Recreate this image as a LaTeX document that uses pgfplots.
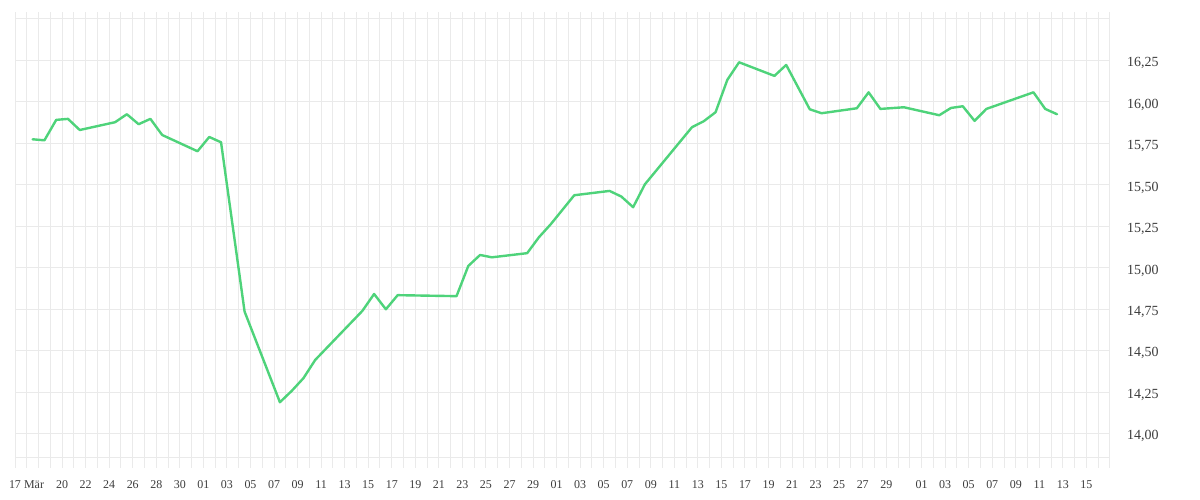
\documentclass[border=0pt]{standalone}
\usepackage{fontspec}
\setmainfont{Liberation Serif}
\usepackage{pgfplots}
\pgfplotsset{compat=1.18}
\definecolor{linegreen}{RGB}{78,211,122}
\definecolor{gridgray}{RGB}{234,234,234}
\definecolor{labelgray}{RGB}{60,60,60}
\begin{document}
\begin{tikzpicture}[x=1bp,y=1bp]
\path[use as bounding box] (0,0) rectangle (1200,500);
\begin{axis}[
  at={(15bp,42bp)}, anchor=south west,
  scale only axis, width=1095bp, height=446bp,
  xmin=-2, xmax=91, ymin=13.855, ymax=16.542,
  axis line style={draw=none},
  xtick pos=bottom,
  xtick={-2,0,2,4,6,8,10,12,14,16,18,20,22,24,26,28,30,32,34,36,38,40,42,44,46,48,50,52,54,56,58,60,62,64,66,68,70,72,75,77,79,81,83,85,87,89},
  xticklabels={17,{\kern-9bp Mär},20,22,24,26,28,30,01,03,05,07,09,11,13,15,17,19,21,23,25,27,29,01,03,05,07,09,11,13,15,17,19,21,23,25,27,29,01,03,05,07,09,11,13,15},
  minor xtick={-2,-1,...,91},
  ytick={14,14.25,14.5,14.75,15,15.25,15.5,15.75,16,16.25,16.5},
  yticklabels={{14,00},{14,25},{14,50},{14,75},{15,00},{15,25},{15,50},{15,75},{16,00},{16,25},{}},
  yticklabel pos=right,
  grid=both,
  major grid style={draw=gridgray, line width=1bp},
  minor grid style={draw=gridgray, line width=1bp},
  tick align=outside,
  major tick length=10bp, minor tick length=10bp,
  every tick/.style={draw=gridgray, line width=1bp},
  ytick style={draw=none},
  xticklabel style={font=\fontsize{12}{14}\selectfont, text=labelgray, inner sep=0pt, anchor=center, yshift=-16.5bp},
  yticklabel style={font=\fontsize{14}{16}\selectfont, text=labelgray, inner sep=0pt, anchor=west, xshift=7bp, yshift=-2.5bp},
  clip=false,
]
\draw[gridgray, line width=1bp] (rel axis cs:0,0) -- (rel axis cs:1,0);
\addplot[linegreen, line width=2.4bp, line join=round, line cap=round] coordinates {
(-0.5,15.775) (0.5,15.769) (1.5,15.892) (2.5,15.898) (3.5,15.831)
(6.5,15.878) (7.5,15.926) (8.5,15.866) (9.5,15.898) (10.5,15.801)
(13.5,15.703) (14.5,15.789) (15.5,15.757) (17.5,14.737)
(20.5,14.191) (21.5,14.259) (22.5,14.336) (23.5,14.446)
(27.5,14.741) (28.5,14.843) (29.5,14.751) (30.5,14.836)
(35.5,14.830) (36.5,15.012) (37.5,15.078) (38.5,15.064)
(41.5,15.089) (42.5,15.185) (43.5,15.263) (45.5,15.438)
(48.5,15.464) (49.5,15.430) (50.5,15.366) (51.5,15.504)
(55.5,15.848) (56.5,15.884) (57.5,15.938) (58.5,16.133) (59.5,16.239)
(62.5,16.157) (63.5,16.223) (65.5,15.956) (66.5,15.932)
(69.5,15.962) (70.5,16.058) (71.5,15.958) (73.5,15.968)
(76.5,15.920) (77.5,15.964) (78.5,15.974) (79.5,15.886) (80.5,15.958)
(84.5,16.058) (85.5,15.958) (86.5,15.926)
};
\end{axis}
\end{tikzpicture}
\end{document}
